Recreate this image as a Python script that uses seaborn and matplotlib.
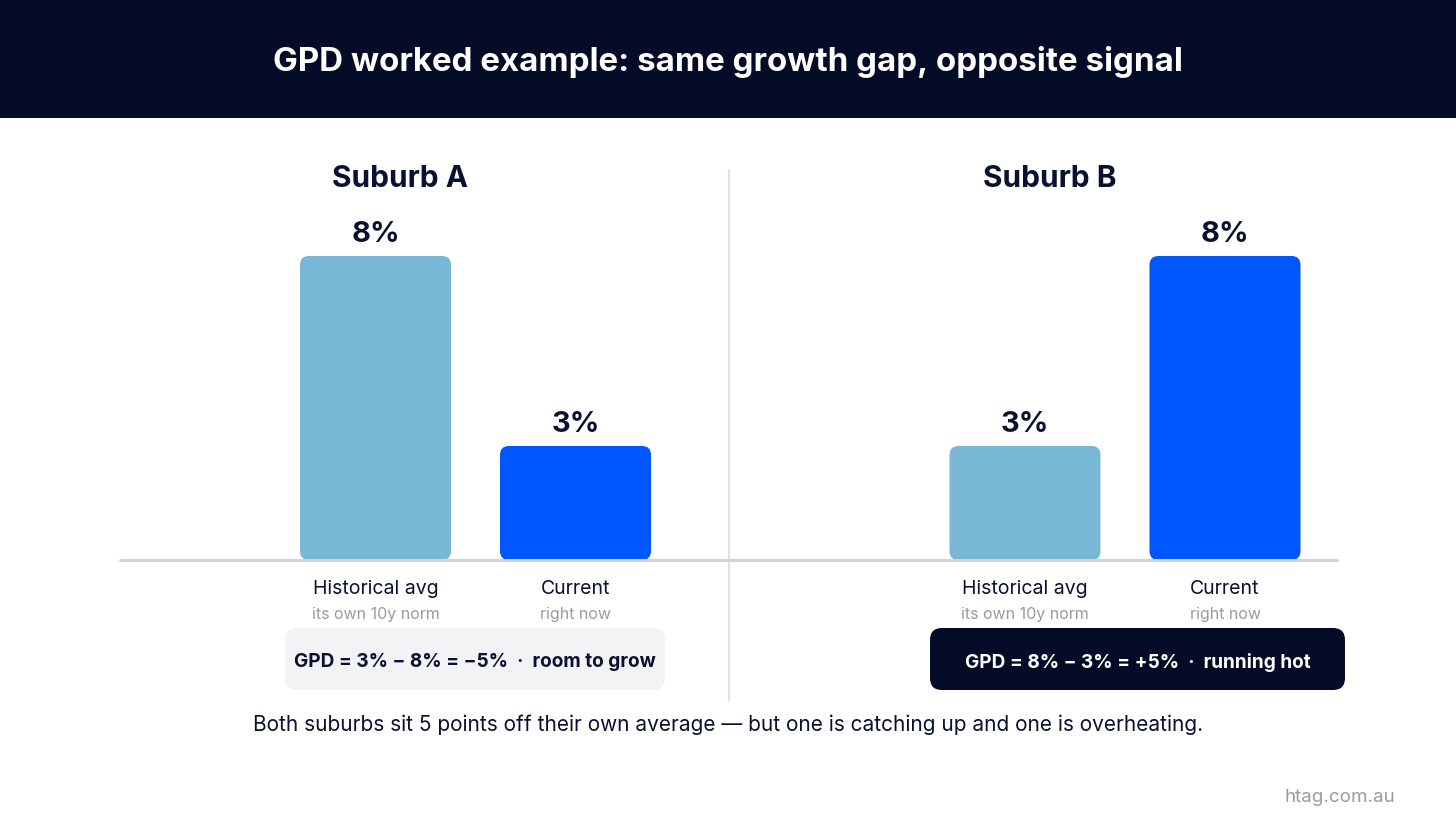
import matplotlib
matplotlib.use("Agg")
import matplotlib.pyplot as plt
from matplotlib.patches import FancyBboxPatch, Rectangle
import seaborn as sns

# data
suburbs = ["Suburb A", "Suburb B"]
categories = ["Historical avg", "Current"]
sub_labels = ["its own 10y norm", "right now"]
suburb_a = [8, 3]
suburb_b = [3, 8]
gpd_labels = ["GPD = 3% \u2212 8% = \u22125%  \u00b7  room to grow",
              "GPD = 8% \u2212 3% = +5%  \u00b7  running hot"]
title = "GPD worked example: same growth gap, opposite signal"
footer = ("Both suburbs sit 5 points off their own average \u2014 "
          "but one is catching up and one is overheating.")
source = "htag.com.au"

NAVY = "#030B26"
LIGHT = "#78B7D6"
BLUE = "#0057FF"
TEXT = "#0A1030"
GREY = "#9A9AA3"
W, H = 1456, 816

sns.set_theme(style="white")
plt.rcParams["font.family"] = ["Inter", "DejaVu Sans"]

fig = plt.figure(figsize=(W / 100, H / 100), dpi=100)
fig.patch.set_facecolor("white")

# background axes in pixel coordinates
bg = fig.add_axes([0, 0, 1, 1], zorder=0)
bg.set_xlim(0, W)
bg.set_ylim(H, 0)
bg.axis("off")
bg.add_patch(Rectangle((0, 0), W, 118, color=NAVY, lw=0))
bg.text(W / 2, 62, title, color="white", fontsize=23.8, fontweight="bold",
        ha="center", va="center")
bg.plot([729, 729], [170, 700], color="#E2E2E6", lw=1.6)

# panels: pixel extents and bar centres
panels = [(120, 728, 375.5, suburb_a, 400), (730, 1337, 1025, suburb_b, 1050)]
px_per_x, px_per_y = 200, 38
base_y, top_y = 560, 150
r = 9
for i, (x0, x1, c0, vals, tx) in enumerate(panels):
    ax = fig.add_axes([x0 / W, 1 - base_y / H, (x1 - x0) / W, (base_y - top_y) / H],
                      zorder=1)
    ax.patch.set_alpha(0)
    sns.barplot(x=categories, y=vals, hue=categories, palette=[LIGHT, BLUE],
                width=151 / px_per_x, legend=False, ax=ax, saturation=1)
    ax.set_xlim((x0 - c0) / px_per_x, (x1 - c0) / px_per_x)
    ax.set_ylim(0, (base_y - top_y) / px_per_y)
    for p in list(ax.patches):
        bx, by, bw, bh = p.get_x(), p.get_y(), p.get_width(), p.get_height()
        fc = p.get_facecolor()
        p.remove()
        ax.add_patch(FancyBboxPatch((bx, by), bw, bh,
                                    boxstyle=f"round,pad=0,rounding_size={r / px_per_x}",
                                    mutation_aspect=px_per_x / px_per_y,
                                    fc=fc, ec="none", zorder=2))
    ax.axhline(0, color="#D3D3DA", lw=2.2, zorder=3, clip_on=False)
    for j, v in enumerate(vals):
        ax.text(j, v + 22 / px_per_y, f"{v}%", ha="center", va="center",
                fontsize=21, fontweight="bold", color=TEXT)
        ax.text(j, -29 / px_per_y, categories[j], ha="center", va="center",
                fontsize=14, color=TEXT, clip_on=False)
        ax.text(j, -54 / px_per_y, sub_labels[j], ha="center", va="center",
                fontsize=11.5, color=GREY, clip_on=False)
    ax.set_xticks([])
    ax.set_yticks([])
    ax.set_xlabel("")
    ax.set_ylabel("")
    sns.despine(ax=ax, left=True, bottom=True)
    bg.text(tx, 179, suburbs[i], ha="center", va="center", fontsize=21.5,
            fontweight="bold", color=TEXT)

# GPD boxes
boxes = [(285, 665, "#F3F3F5", TEXT), (930, 1345, NAVY, "white")]
for (bx0, bx1, fc, tc), lab in zip(boxes, gpd_labels):
    bg.add_patch(FancyBboxPatch((bx0, 628), bx1 - bx0, 62,
                                boxstyle="round,pad=0,rounding_size=12",
                                fc=fc, ec="none"))
    bg.text((bx0 + bx1) / 2, 662, lab, ha="center", va="center",
            fontsize=13.7, fontweight="bold", color=tc)

bg.text(728, 725, footer, ha="center", va="center", fontsize=15, color=TEXT)
bg.text(1340, 797, source, ha="center", va="center", fontsize=13.5, color=GREY)

fig.savefig("out.png", dpi=100, facecolor="white")
